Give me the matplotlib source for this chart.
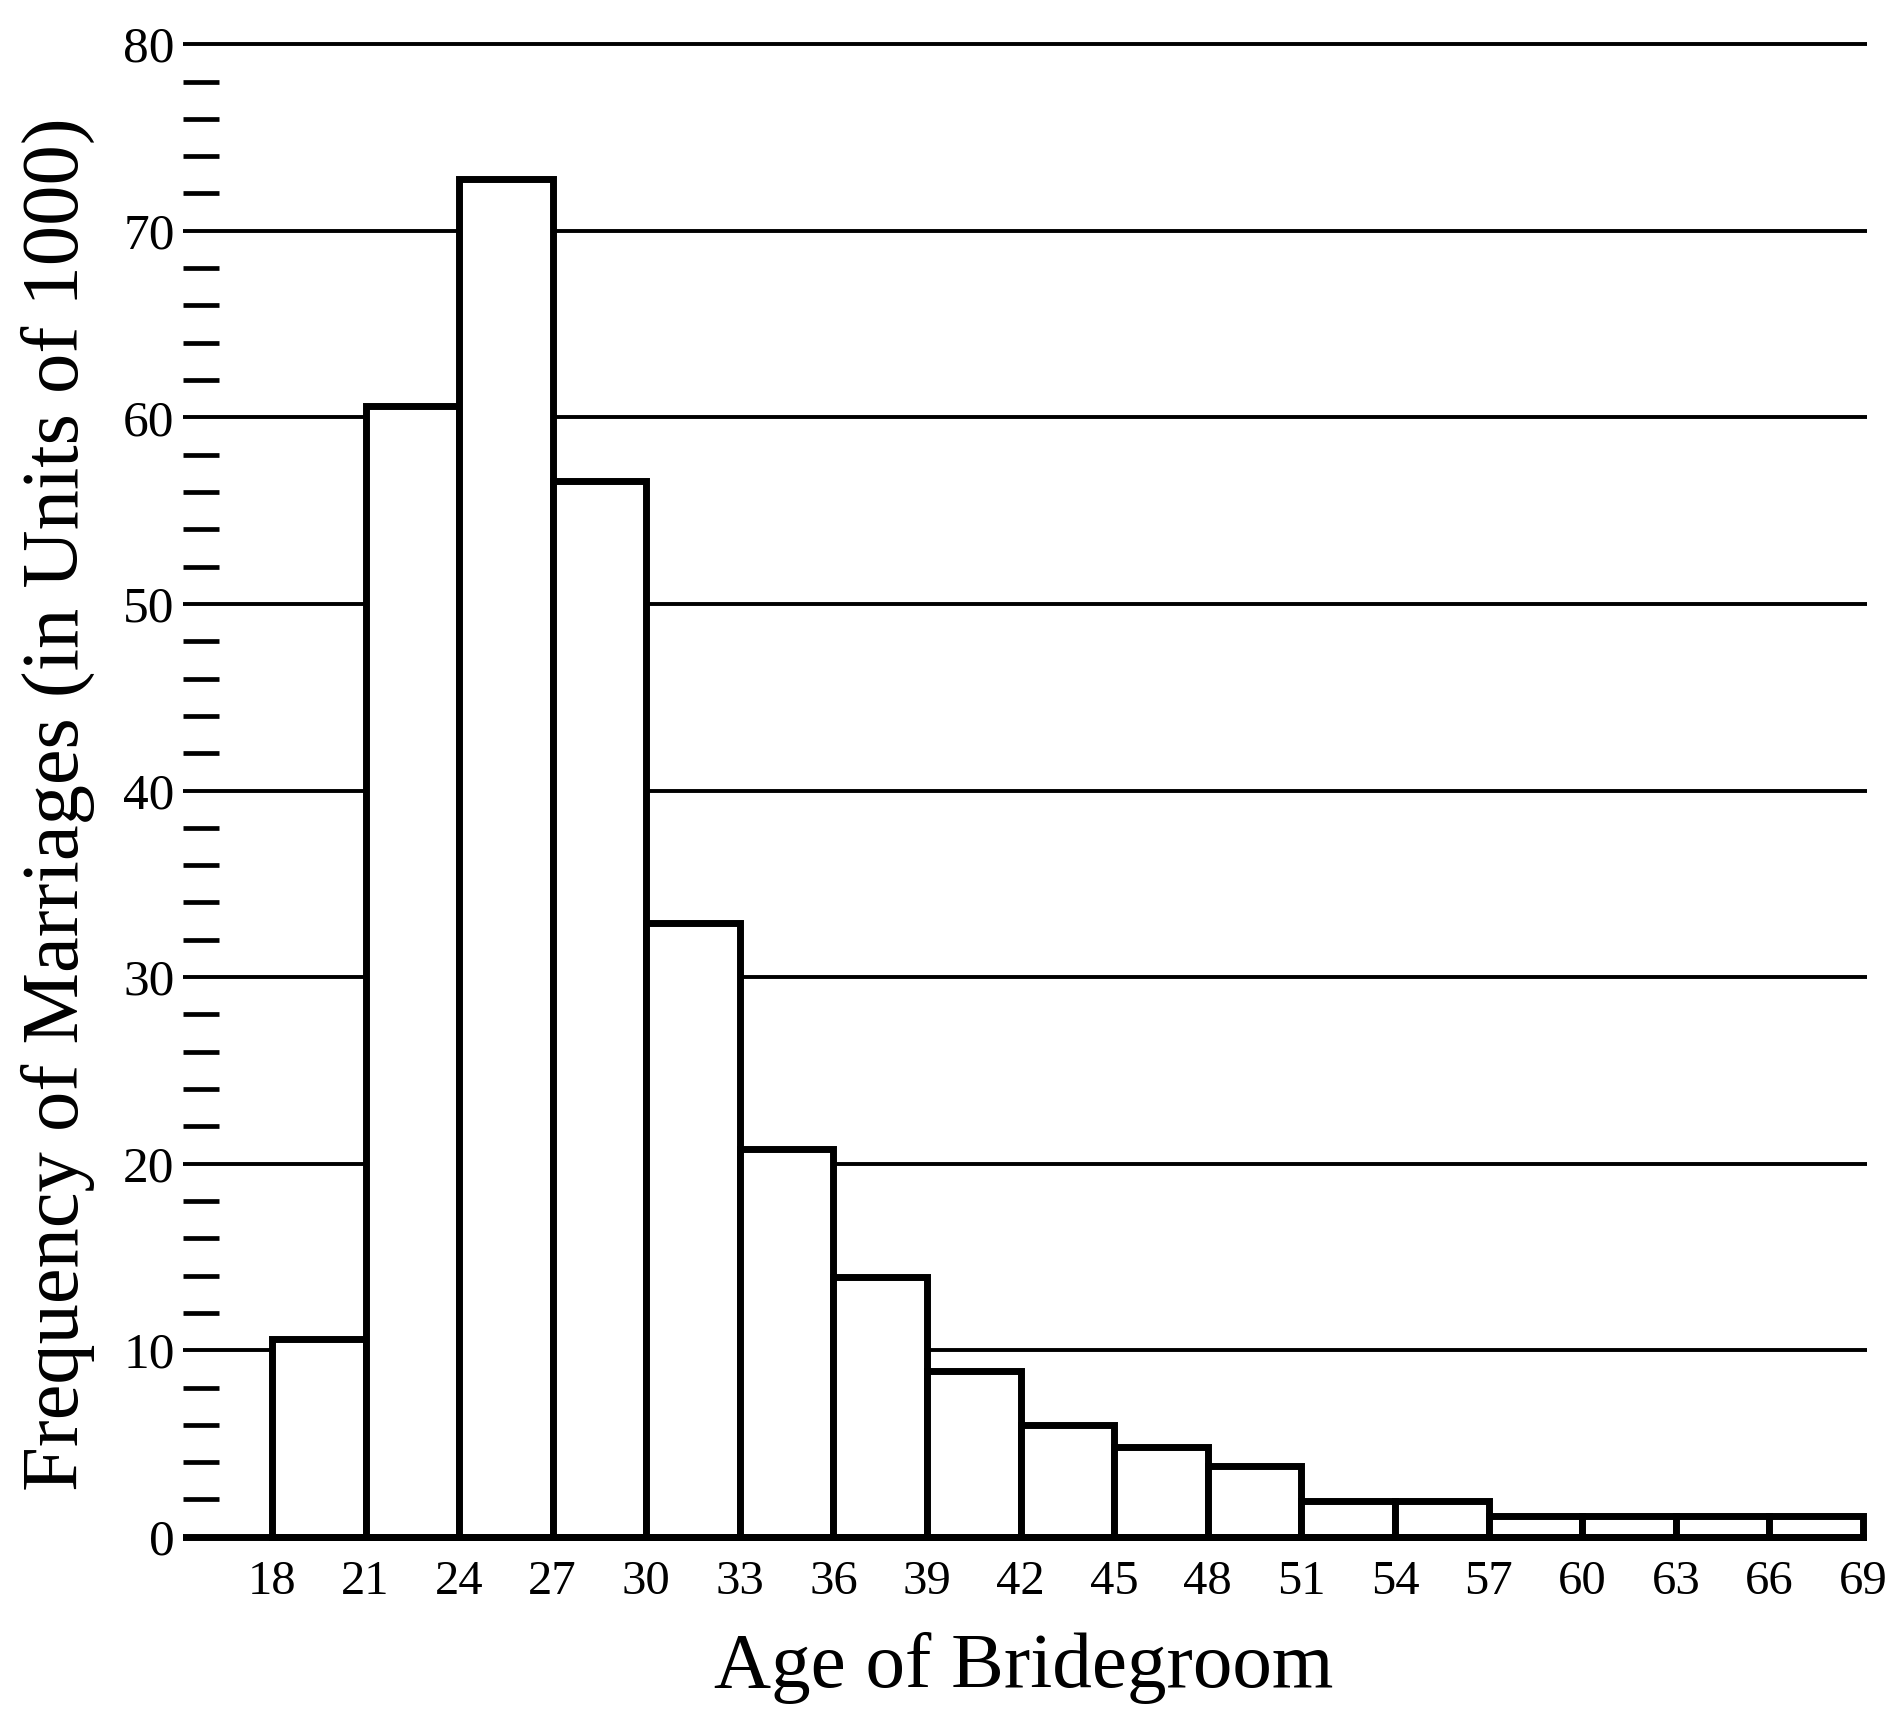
import numpy as np
import matplotlib
matplotlib.use("Agg")
import matplotlib.pyplot as plt
from matplotlib.ticker import FixedLocator

# Data
bin_edges = [18, 21, 24, 27, 30, 33, 36, 39, 42, 45, 48, 51, 54, 57, 60, 63, 66, 69]
frequencies = [10.6, 60.6, 72.8, 56.6, 32.9, 20.8, 13.9, 8.9, 6.0, 4.8, 3.8, 1.9, 1.9, 1.1, 1.1, 1.1, 1.1]
x_tick_labels = [str(e) for e in bin_edges]
y_major_ticks = [0, 10, 20, 30, 40, 50, 60, 70, 80]
x_label = "Age of Bridegroom"
y_label = "Frequency of Marriages (in Units of 1000)"

plt.rcParams['font.family'] = ['Liberation Serif', 'DejaVu Serif']

W, H = 1895, 1713
fig = plt.figure(figsize=(W / 100, H / 100), dpi=100)
ax = fig.add_axes([183 / W, 1 - 1548 / H, (1867 - 183) / W, (1548 - 33) / H])

edges = np.array(bin_edges, dtype=float)
ax.bar(edges[:-1], frequencies, width=np.diff(edges), align='edge',
       facecolor='white', edgecolor='black', linewidth=5, zorder=3)

ax.set_xlim(15.15, 69.13)
ax.set_ylim(-0.6, 80.6)

# grid lines
ax.yaxis.set_major_locator(FixedLocator(y_major_ticks))
minor = [v for v in range(0, 81, 2) if v % 10 != 0]
ax.yaxis.set_minor_locator(FixedLocator(minor))
ax.grid(axis='y', which='major', color='black', linewidth=2.8, zorder=1)
ax.set_axisbelow(True)
ax.axhline(0, color='black', linewidth=5, zorder=4)

for s in ax.spines.values():
    s.set_visible(False)

ax.tick_params(axis='y', which='major', length=0, pad=6, labelsize=37)
ax.tick_params(axis='y', which='minor', direction='in', length=26, width=3.4, color='black')
ax.set_yticklabels([str(v) for v in y_major_ticks])

ax.set_xticks(bin_edges)
ax.set_xticklabels(x_tick_labels)
ax.tick_params(axis='x', which='both', length=0, pad=9, labelsize=35)

fig.text(58 / W, 1 - 804 / H, y_label, rotation=90, ha='center', va='center', fontsize=58)
fig.text(1024 / W, 1 - 1668 / H, x_label, ha='center', va='center', fontsize=57)

fig.savefig("out.png", dpi=100, facecolor='white')
